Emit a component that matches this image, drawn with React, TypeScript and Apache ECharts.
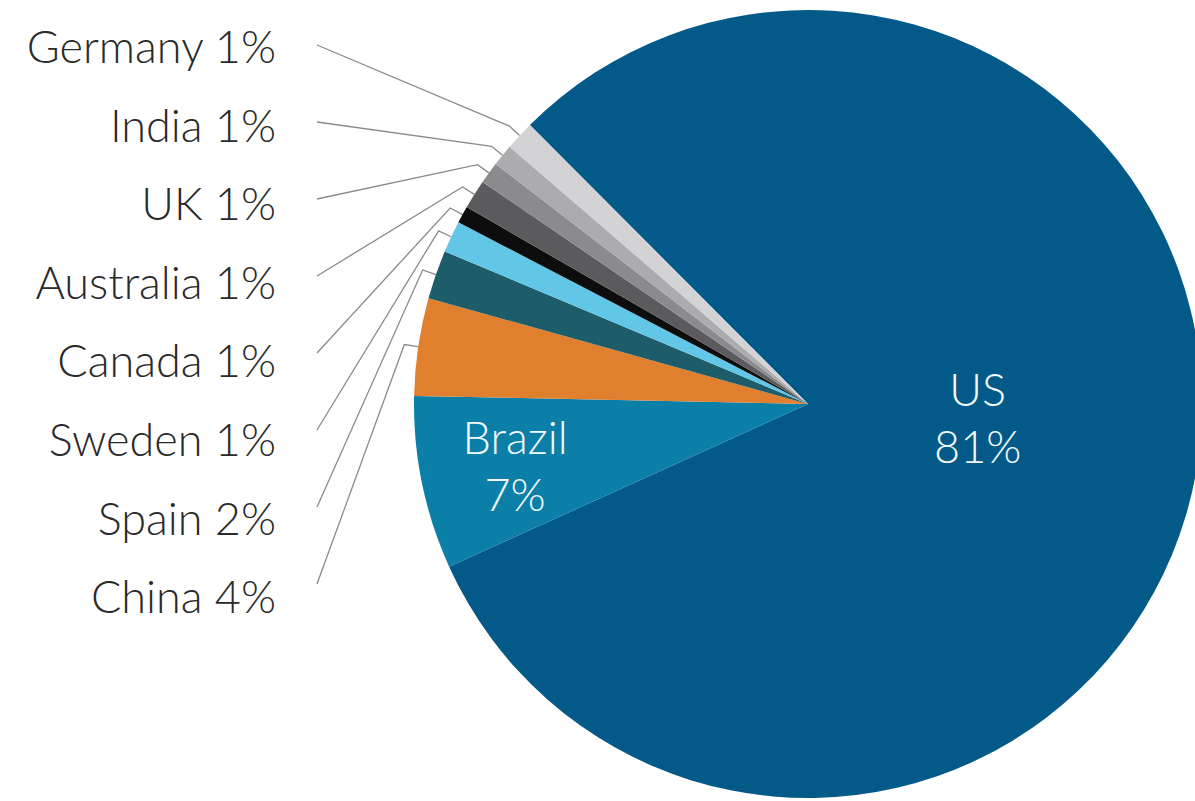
import React, { useEffect, useRef } from "react";
import * as echarts from "echarts";

// ---- data (clockwise from the top-left edge of the US slice) ----
const countries = ["US", "Brazil", "China", "Spain", "Sweden", "Canada", "Australia", "UK", "India", "Germany"];
const shares = [80.7, 7.1, 4.0, 2.0, 1.3, 0.7, 1.2, 0.9, 0.9, 1.2];
const sliceColors = [
  "#035a88", "#0b7fa7", "#e07f2e", "#1c5d69", "#62c6e6",
  "#0d0d0d", "#5b5b5d", "#8b8b8d", "#acacae", "#d3d3d5",
];
const insideLabels = ["US", "Brazil"];

// ---- layout ----
const CX = 808;
const CY = 404;
const R = 394;
const START_ANGLE = 134.9;
const LABEL_RIGHT = 276;
const LABEL_TOP = 46;
const LABEL_STEP = 78.6;
const LINE_X = 317;
const LINE_TOP = 45;
const LINE_STEP = 77;
const ELBOW = 14;
const FONT = "Lato, 'Open Sans', sans-serif";

export default function App() {
  const ref = useRef<HTMLDivElement>(null);

  useEffect(() => {
    if (!ref.current) return;
    const chart = echarts.init(ref.current, undefined, { renderer: "svg" });
    const n = countries.length;

    const data = countries.map((name, i) => {
      const inside = insideLabels.includes(name);
      return {
        name,
        value: shares[i],
        itemStyle: { color: sliceColors[i] },
        label: inside
          ? {
              position: "inside",
              color: "#f2fbff",
              fontSize: 45,
              fontWeight: 300,
              lineHeight: 57,
              align: "center",
              formatter: (p: any) => `${p.name}\n${Math.round(p.percent)}%`,
            }
          : undefined,
        labelLine: inside ? { show: false } : undefined,
      };
    });

    chart.setOption({
      animation: false,
      backgroundColor: "#ffffff",
      series: [
        {
          type: "pie",
          center: [CX, CY],
          radius: [0, R],
          startAngle: START_ANGLE,
          clockwise: true,
          avoidLabelOverlap: false,
          itemStyle: { borderWidth: 0 },
          emphasis: { disabled: true },
          label: {
            show: true,
            position: "outside",
            fontFamily: FONT,
            fontSize: 45,
            fontWeight: 300,
            color: "#2a2a2a",
            formatter: (p: any) => `${p.name} ${Math.round(p.percent)}%`,
          },
          labelLine: {
            show: true,
            length: ELBOW,
            length2: 10,
            lineStyle: { color: "#8a8a8a", width: 1.3 },
          },
          labelLayout: (p: any) => {
            const d = p.dataIndex;
            if (d === 0) return { dx: -27, dy: -22 };
            if (d === 1) return { dx: -97, dy: 21 };
            const rank = n - 1 - d;
            const y = LABEL_TOP + rank * LABEL_STEP;
            const ly = LINE_TOP + rank * LINE_STEP;
            let edge: number[];
            if (p.labelLinePoints && p.labelLinePoints[0]) {
              edge = p.labelLinePoints[0];
            } else {
              let acc = 0;
              for (let k = 0; k < d; k++) acc += shares[k];
              const total = shares.reduce((a, b) => a + b, 0);
              const mid = ((START_ANGLE - ((acc + shares[d] / 2) / total) * 360) * Math.PI) / 180;
              edge = [CX + R * Math.cos(mid), CY - R * Math.sin(mid)];
            }
            const ex = edge[0] - CX;
            const ey = edge[1] - CY;
            const len = Math.hypot(ex, ey) || 1;
            const elbow = [edge[0] + (ex / len) * ELBOW, edge[1] + (ey / len) * ELBOW];
            return {
              x: LABEL_RIGHT,
              y,
              align: "right",
              verticalAlign: "middle",
              labelLinePoints: [edge, elbow, [LINE_X, ly]],
            };
          },
          data,
        },
      ],
    });

    return () => chart.dispose();
  }, []);

  return (
    <div
      ref={ref}
      style={{ position: "fixed", left: 0, top: 0, width: 1195, height: 801, background: "#fff" }}
    />
  );
}
